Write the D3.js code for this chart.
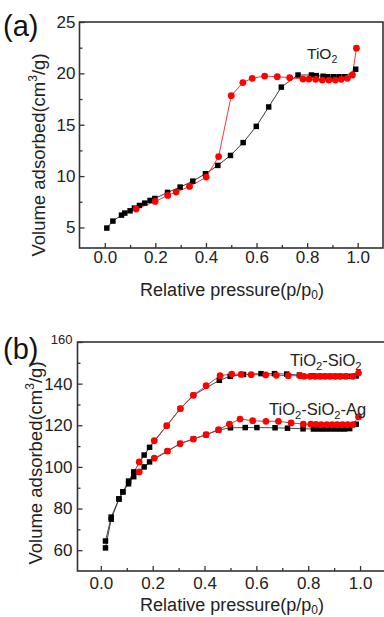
<!DOCTYPE html>
<html><head><meta charset="utf-8">
<script src="https://cdn.jsdelivr.net/npm/d3@7"></script>
<style>
html,body{margin:0;padding:0;background:#fff;}
svg{display:block;font-family:"Liberation Sans",Arial,sans-serif;}
</style></head>
<body><svg id="c" width="384" height="617"></svg>
<script>
// ---------- Panel (a): TiO2 ----------
const aAdsX = [0.008,0.032,0.066,0.079,0.10,0.117,0.137,0.158,0.179,0.198,0.248,0.298,0.348,0.398,0.447,0.497,0.547,0.599,0.648,0.698,0.764,0.817,0.836,0.863,0.882,0.905,0.926,0.949,0.992];
const aAdsY = [4.94,5.62,6.2,6.4,6.62,6.88,7.14,7.37,7.63,7.82,8.41,8.93,9.51,10.23,11.04,12.01,13.26,14.84,16.73,18.66,19.84,19.84,19.78,19.72,19.67,19.67,19.67,19.67,20.4];
const aDesX = [0.995,0.979,0.959,0.935,0.912,0.886,0.86,0.834,0.807,0.784,0.731,0.682,0.632,0.583,0.546,0.50,0.45,0.401,0.335,0.282,0.249,0.199,0.124];
const aDesY = [22.45,19.84,19.52,19.42,19.35,19.35,19.35,19.42,19.45,19.45,19.58,19.67,19.74,19.52,19.1,17.83,11.9,9.9,8.99,8.44,8.12,7.53,6.79];
const aYTicks = [5,10,15,20,25];
const aYMinor = [7.5,12.5,17.5,22.5];

// ---------- Panel (b): TiO2-SiO2 and TiO2-SiO2-Ag ----------
const bSAdsX = [0.018,0.04,0.07,0.085,0.107,0.127,0.167,0.188,0.254,0.307,0.357,0.457,0.499,0.55,0.618,0.67,0.717,0.766,0.816,0.835,0.855,0.875,0.895,0.915,0.935,0.955,0.985];
const bSAdsY = [64.4,75.9,84.6,88,93.2,97.6,105.7,109.4,119.8,128,134.4,141.6,143.5,144.4,144.8,144.8,144.6,144.1,143.7,143.5,143.5,143.5,143.5,143.5,143.5,143.5,143.7];
const bSDesX = [0.994,0.972,0.945,0.923,0.904,0.884,0.865,0.846,0.826,0.807,0.784,0.768,0.723,0.677,0.636,0.58,0.541,0.505,0.46,0.406,0.357,0.307,0.254,0.206,0.148];
const bSDesY = [145.1,143.5,143.5,143.5,143.5,143.5,143.5,143.5,143.5,143.5,143.5,143.8,143.8,144,144.2,144.3,144.4,144.6,143.8,139,134.4,128,119.8,112.6,102.4];
const bAAdsX = [0.018,0.04,0.07,0.085,0.107,0.127,0.167,0.188,0.257,0.306,0.357,0.406,0.454,0.50,0.557,0.602,0.672,0.72,0.78,0.82,0.84,0.86,0.88,0.90,0.92,0.94,0.96,0.985];
const bAAdsY = [61.1,74.9,84.6,88,91.9,95.3,100,102.4,107.5,111.2,113.4,115.5,117.7,118.8,118.9,118.9,118.8,118.6,118.3,118.2,118.2,118.2,118.2,118.2,118.2,118.2,118.4,120.5];
const bADesX = [0.994,0.972,0.952,0.932,0.912,0.892,0.872,0.85,0.83,0.81,0.781,0.734,0.685,0.637,0.586,0.537,0.496,0.454,0.406,0.357,0.306,0.257,0.206,0.148];
const bADesY = [124,120.3,120.3,120.3,120.3,120.3,120.3,120.3,120.4,120.5,120.6,121.1,121.9,121.9,122.2,123,120.6,117.9,115.5,113.4,111.2,107.6,104.2,97.6];
const bYTicks = [60,80,100,120,140,160];
const bYMinor = [70,90,110,130,150];

const xTicks = [0,0.2,0.4,0.6,0.8,1.0];
const xMinor = [-0.1,0.1,0.3,0.5,0.7,0.9,1.1];

const svg = d3.select("#c");
const AX = "#333";

function panel(opt){
  const g = svg.append("g");
  const x = d3.scaleLinear().domain(opt.xd).range(opt.xr);
  const y = d3.scaleLinear().domain(opt.yd).range(opt.yr);
  const [x0,x1] = opt.xr, [y0,y1] = opt.yr;
  g.append("g").attr("transform",`translate(${x0},0)`)
    .call(d3.axisLeft(y).tickValues(opt.yMinor).tickSize(-3).tickFormat(""));
  g.append("g").attr("transform",`translate(0,${y0})`)
    .call(d3.axisBottom(x).tickValues(xMinor.filter(v=>v>opt.xd[0]&&v<opt.xd[1])).tickSize(-3).tickFormat(""));
  const ya = g.append("g").attr("transform",`translate(${x0},0)`)
    .call(d3.axisLeft(y).tickValues(opt.yTicks).tickSize(-5).tickPadding(opt.yPad).tickFormat(d3.format("d")));
  g.append("g").attr("transform",`translate(0,${y0})`)
    .call(d3.axisBottom(x).tickValues(xTicks).tickSize(-5).tickPadding(opt.xPad).tickFormat(d3.format(".1f")));
  g.selectAll(".domain").remove();
  g.selectAll(".tick line").attr("stroke",AX).attr("stroke-width",1.3);
  g.selectAll(".tick text").attr("font-family","Liberation Sans, Arial, sans-serif")
    .attr("font-size",17).attr("fill","#222");
  if(opt.topSmall){
    ya.selectAll(".tick text").filter(d=>d===opt.yd[1]).attr("font-size",13).attr("dy","0.15em");
  }
  g.append("rect").attr("x",x0).attr("y",y1).attr("width",x1-x0).attr("height",y0-y1)
    .attr("fill","none").attr("stroke",AX).attr("stroke-width",1.6);
  const line = d3.line().x(d=>x(d[0])).y(d=>y(d[1]));
  opt.series.forEach(s=>{
    const pts = s.xs.map((v,i)=>[v,s.ys[i]]);
    g.append("path").datum(pts).attr("d",line).attr("fill","none")
      .attr("stroke",s.lc).attr("stroke-width",0.9);
  });
  opt.series.forEach(s=>{
    const pts = s.xs.map((v,i)=>[v,s.ys[i]]);
    const sym = d3.symbol().type(s.shape==="sq"?d3.symbolSquare:d3.symbolCircle).size(s.shape==="sq"?30:36);
    g.append("g").selectAll("path").data(pts).join("path")
      .attr("transform",d=>`translate(${x(d[0])},${y(d[1])})`)
      .attr("d",sym).attr("fill",s.c);
  });
  return {g,x,y};
}

panel({
  xd:[-0.1,1.1], xr:[79.5,383], yd:[3,25], yr:[248,22],
  yTicks:aYTicks, yMinor:aYMinor, yPad:4, xPad:3,
  series:[
    {xs:aAdsX, ys:aAdsY, c:"#000", lc:"#222", shape:"sq"},
    {xs:aDesX, ys:aDesY, c:"#ff0000", lc:"#ee2222", shape:"ci"}
  ]
});
panel({
  xd:[-0.09,1.1], xr:[77.5,386], yd:[50,160], yr:[571,342],
  yTicks:bYTicks, yMinor:bYMinor, yPad:5, xPad:6, topSmall:true,
  series:[
    {xs:bSAdsX, ys:bSAdsY, c:"#000", lc:"#333", shape:"sq"},
    {xs:bAAdsX, ys:bAAdsY, c:"#000", lc:"#333", shape:"sq"},
    {xs:bSDesX, ys:bSDesY, c:"#ff0000", lc:"#a33", shape:"ci"},
    {xs:bADesX, ys:bADesY, c:"#ff0000", lc:"#a33", shape:"ci"}
  ]
});

svg.append("text").attr("x",3).attr("y",36).attr("font-size",29).attr("fill","#111").text("(a)");
svg.append("text").attr("x",3).attr("y",359).attr("font-size",29).attr("fill","#111").text("(b)");

function xTitle(cx, by){
  const t = svg.append("text").attr("x",cx).attr("y",by).attr("text-anchor","middle")
    .attr("font-size",18).attr("fill","#222");
  t.append("tspan").text("Relative pressure(p/p");
  t.append("tspan").attr("font-size",12).attr("dy",3).text("0");
  t.append("tspan").attr("dy",-3).text(")");
}
function yTitle(bx, cy){
  const t = svg.append("text").attr("transform",`translate(${bx},${cy}) rotate(-90)`)
    .attr("text-anchor","middle").attr("font-size",18.5).attr("fill","#222");
  t.append("tspan").text("Volume adsorbed(cm");
  t.append("tspan").attr("font-size",12).attr("dy",-8).text("3");
  t.append("tspan").attr("dy",8).text("/g)");
}
xTitle(232,296);
xTitle(232,611);
yTitle(45,155);
yTitle(42,463);

function chem(x0, by, parts, fs){
  const t = svg.append("text").attr("x",x0).attr("y",by).attr("font-size",fs).attr("fill","#222");
  parts.forEach(p=>{
    if(p[1]) t.append("tspan").attr("font-size",fs*0.68).attr("dy",4).text(p[0]);
    else t.append("tspan").attr("dy",p[2]||0).text(p[0]);
  });
}
chem(307,59,[["TiO"],["2",1],["",0,-4]],15.5);
chem(290,366,[["TiO"],["2",1],["-SiO",0,-4],["2",1]],16.5);
chem(269,415,[["TiO"],["2",1],["-SiO",0,-4],["2",1],["-Ag",0,-4]],16.5);
</script></body></html>
